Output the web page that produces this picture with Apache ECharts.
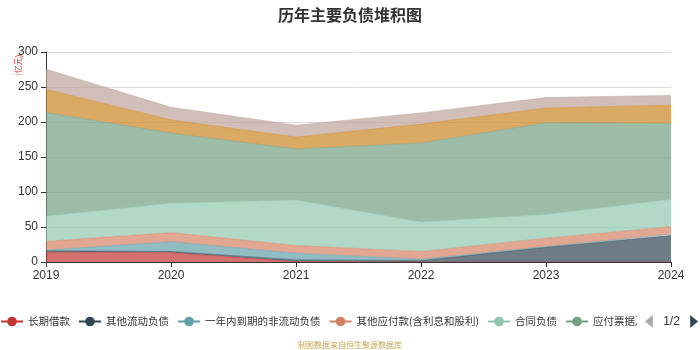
<!DOCTYPE html>
<html>
<head>
<meta charset="utf-8">
<script src="https://cdn.jsdelivr.net/npm/echarts@6/dist/echarts.min.js"></script>
<style>html,body{margin:0;padding:0;background:#fff}#c{width:700px;height:350px}</style>
</head>
<body>
<div id="c"></div>
<script>
var years = ['2019', '2020', '2021', '2022', '2023', '2024'];
var seriesNames = ['长期借款', '其他流动负债', '一年内到期的非流动负债', '其他应付款(含利息和股利)', '合同负债', '应付票据及应付账款', '短期借款', '应付职工薪酬'];
var s0 = [14, 13.5, 0.5, 0, 0, 0];
var s1 = [2, 1.5, 2.5, 2, 21, 38];
var s2 = [1, 14, 9.5, 2, 1, 1.5];
var s3 = [12.5, 13, 11, 11, 12, 11];
var s4 = [36, 42, 65, 42, 34, 39];
var s5 = [148, 100, 73, 113, 131, 108.5];
var s6 = [33, 19, 17, 27, 21, 26];
var s7 = [29, 18, 17, 16, 15, 14];
var yTicks = [0, 50, 100, 150, 200, 250, 300];
var colors = ['#c23531','#2f4554','#61a0a8','#d48265','#91c7ae','#749f83','#ca8622','#bda29a'];
var all = [s0, s1, s2, s3, s4, s5, s6, s7];

var chart = echarts.init(document.getElementById('c'), null, {renderer: 'canvas'});
var series = all.map(function (d, i) {
  return {
    name: seriesNames[i],
    type: 'line',
    stack: 'total',
    data: d,
    symbol: 'circle',
    symbolSize: 6,
    showSymbol: false,
    lineStyle: {width: 0.5, color: colors[i]},
    itemStyle: {color: colors[i]},
    areaStyle: {color: colors[i], opacity: 0.7}
  };
});
chart.setOption({
  animation: false,
  color: colors,
  title: {
    text: '历年主要负债堆积图', left: 'center', top: 2,
    textStyle: {fontSize: 16, fontWeight: 'bold', color: '#333', fontFamily: 'Noto Sans CJK SC'}
  },
  grid: {left: 46, right: 29, top: 52, bottom: 88},
  legend: {
    type: 'scroll', bottom: 17, left: 0, right: 0, padding: [5, 2, 5, 0],
    itemWidth: 22, itemHeight: 12, itemGap: 8,
    textStyle: {fontSize: 10.5, color: '#333', fontFamily: 'Noto Sans CJK SC'},
    pageIconColor: '#2f4554', pageIconInactiveColor: '#aaa', pageIconSize: 13,
    pageTextStyle: {color: '#333', fontSize: 12},
    data: seriesNames
  },
  xAxis: {
    type: 'category', data: years, boundaryGap: false,
    axisLine: {lineStyle: {color: '#333'}},
    axisTick: {show: true, lineStyle: {color: '#333'}},
    axisLabel: {color: '#333', fontSize: 12}
  },
  yAxis: {
    type: 'value', min: yTicks[0], max: yTicks[yTicks.length - 1], interval: 50,
    axisLine: {show: true, lineStyle: {color: '#333'}},
    axisTick: {show: true, lineStyle: {color: '#333'}},
    axisLabel: {color: '#333', fontSize: 12},
    splitLine: {lineStyle: {color: '#ddd'}}
  },
  graphic: [
    {type: 'text', left: 'center', top: 341, style: {text: '制图数据来自恒生聚源数据库', fill: '#c9a44a', fontSize: 8, fontFamily: 'Noto Sans CJK SC'}},
    {type: 'text', x: 14, y: 76, rotation: Math.PI / 2, style: {text: '(亿元)', fill: '#e03030', fontSize: 8, fontFamily: 'Noto Sans CJK SC'}}
  ],
  series: series
});
</script>
</body>
</html>
